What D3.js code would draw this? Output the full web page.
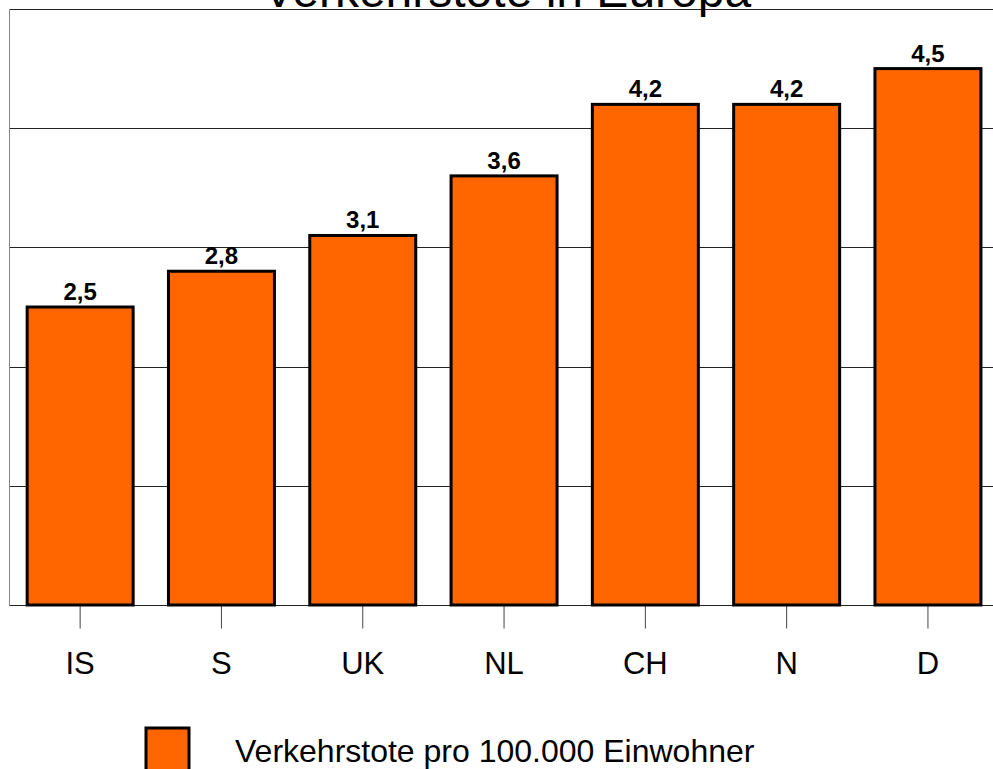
<!DOCTYPE html>
<html><head><meta charset="utf-8">
<script src="https://cdn.jsdelivr.net/npm/d3@7"></script>
<style>html,body{margin:0;padding:0;background:#fff;overflow:hidden}</style>
</head><body>
<script>
const categories = ["IS","S","UK","NL","CH","N","D"];
const values = [2.5,2.8,3.1,3.6,4.2,4.2,4.5];
const valueLabels = ["2,5","2,8","3,1","3,6","4,2","4,2","4,5"];
const gridTicks = [0,1,2,3,4,5];
const title = "Verkehrstote in Europa";
const seriesName = "Verkehrstote pro 100.000 Einwohner";

const W = 993, H = 769;
const font = "'Liberation Sans', Arial, sans-serif";
const svg = d3.select("body").append("svg").attr("width", W).attr("height", H);

const x = d3.scaleBand().domain(categories).range([9.5, 998.6]).paddingInner(0.25).paddingOuter(0.125);
const y = d3.scaleLinear().domain([0,5]).range([605, 9]);

// gridlines
svg.append("g").selectAll("line").data(gridTicks).join("line")
  .attr("x1", 9.5).attr("x2", W).attr("y1", d => Math.round(y(d)) + 0.5).attr("y2", d => Math.round(y(d)) + 0.5)
  .attr("stroke", "#222").attr("stroke-width", 1);
// left axis
svg.append("line").attr("x1", 9.5).attr("x2", 9.5).attr("y1", y(5)).attr("y2", y(0)+0.5)
  .attr("stroke", "#888").attr("stroke-width", 1);

// x axis
const xAxis = d3.axisBottom(x).tickSize(23).tickPadding(23).tickSizeOuter(0);
const gx = svg.append("g").attr("transform", `translate(0,${Math.round(y(0))+0.5})`).call(xAxis);
gx.select(".domain").remove();
gx.selectAll(".tick line").attr("stroke", "#444");
gx.selectAll(".tick text").attr("font-family", font).attr("font-size", 31).attr("fill", "#000");

// bars
svg.append("g").selectAll("rect").data(values).join("rect")
  .attr("x", (d,i) => x(categories[i]))
  .attr("y", d => y(d))
  .attr("width", x.bandwidth())
  .attr("height", d => y(0) - y(d))
  .attr("fill", "#FF6600").attr("stroke", "#000").attr("stroke-width", 3);

// value labels
svg.append("g").selectAll("text").data(values).join("text")
  .attr("x", (d,i) => x(categories[i]) + x.bandwidth()/2)
  .attr("y", d => y(d) - 7)
  .attr("text-anchor", "middle")
  .attr("font-family", font).attr("font-weight", "bold").attr("font-size", 24)
  .text((d,i) => valueLabels[i]);

// title
svg.append("text").attr("x", 507).attr("y", 7).attr("text-anchor", "middle")
  .attr("font-family", font).attr("font-size", 48).text(title);

// legend
svg.append("rect").attr("x", 146).attr("y", 728).attr("width", 43).attr("height", 45)
  .attr("fill", "#FF6600").attr("stroke", "#000").attr("stroke-width", 3);
svg.append("text").attr("x", 235).attr("y", 762)
  .attr("font-family", font).attr("font-size", 32).text(seriesName);
</script>
</body></html>
